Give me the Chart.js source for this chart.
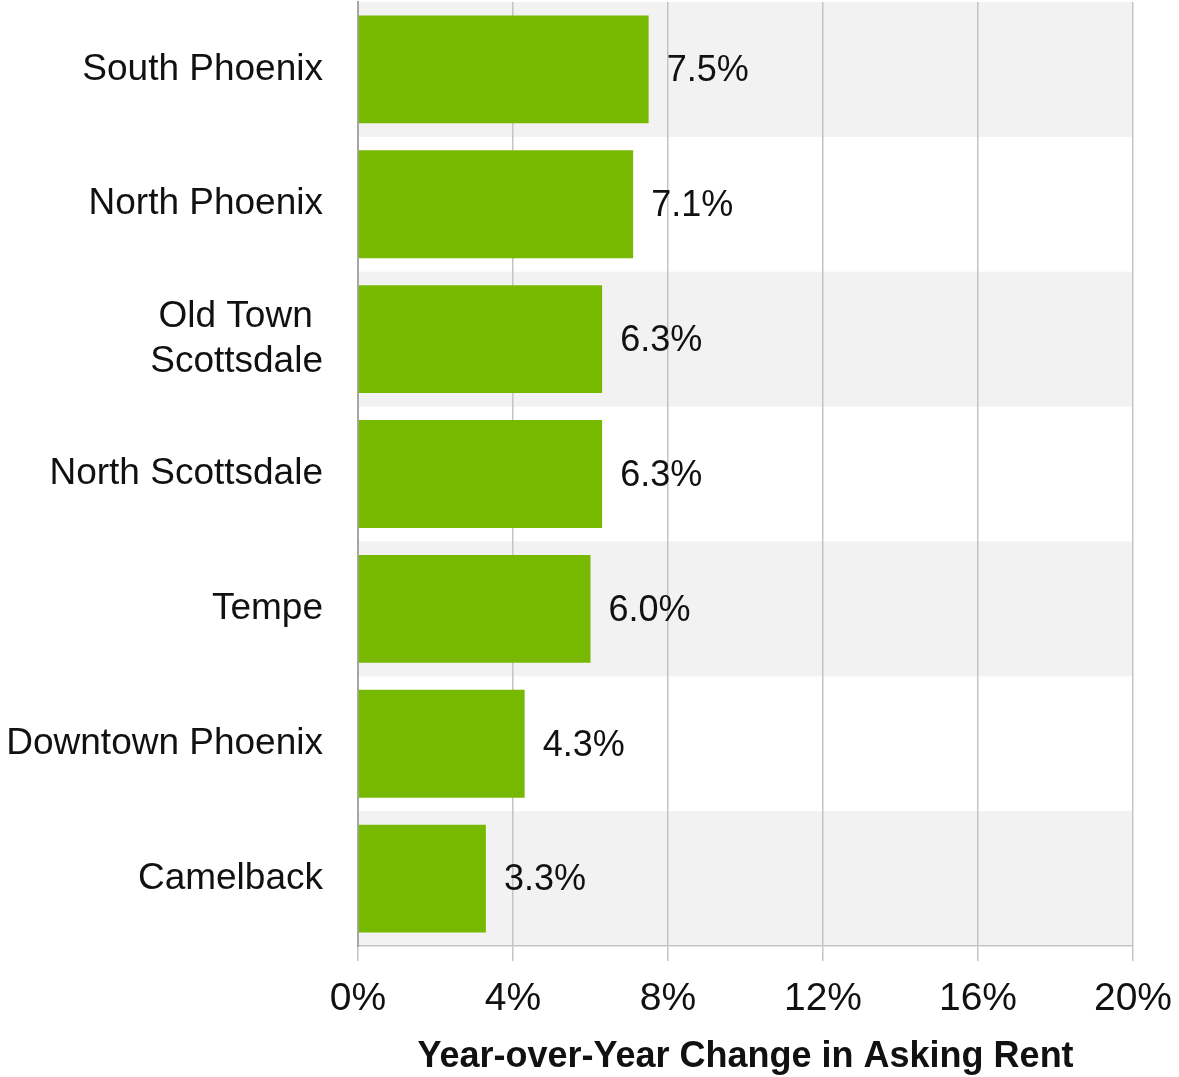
<!DOCTYPE html>
<html lang="en">
<head>
  <meta charset="UTF-8" />
  <title>Year-over-Year Change in Asking Rent</title>
  <script src="https://cdn.jsdelivr.net/npm/chart.js"></script>
  <style>
    html, body { margin: 0; padding: 0; background: #fff; }
    .wrap { width: 1179px; height: 1077px; }
  </style>
</head>
<body>
  <div class="wrap"><canvas id="rentChart"></canvas></div>

  <script>
    const areas = ['South Phoenix', 'North Phoenix', ['Old Town ', 'Scottsdale'], 'North Scottsdale',
                   'Tempe', 'Downtown Phoenix', 'Camelback'];
    const rentChange = [7.5, 7.1, 6.3, 6.3, 6.0, 4.3, 3.3];
    const xTicks = [0, 4, 8, 12, 16, 20];

    // grey bands behind every other row
    const rowBands = {
      id: 'rowBands',
      beforeDraw(chart) {
        const { ctx, chartArea, scales } = chart;
        const y = scales.y;
        const step = (chartArea.bottom - chartArea.top) / areas.length;
        ctx.save();
        ctx.fillStyle = '#f2f2f2';
        areas.forEach((a, i) => {
          if (i % 2 === 0) {
            const c = y.getPixelForValue(i);
            ctx.fillRect(chartArea.left, c - step / 2, chartArea.right - chartArea.left, step);
          }
        });
        ctx.restore();
      }
    };

    // value labels to the right of bars
    const barLabels = {
      id: 'barLabels',
      afterDatasetsDraw(chart) {
        const { ctx } = chart;
        const meta = chart.getDatasetMeta(0);
        ctx.save();
        ctx.font = '36px "Liberation Sans", Arial, sans-serif';
        ctx.fillStyle = '#111';
        ctx.textBaseline = 'middle';
        meta.data.forEach((bar, i) => {
          ctx.fillText(rentChange[i].toFixed(1) + '%', bar.x + 18, bar.y + 2);
        });
        ctx.restore();
      }
    };

    new Chart(document.getElementById('rentChart'), {
      type: 'bar',
      data: {
        labels: areas,
        datasets: [{
          data: rentChange,
          backgroundColor: '#77b800',
          categoryPercentage: 0.8,
          barPercentage: 1
        }]
      },
      options: {
        indexAxis: 'y',
        responsive: true,
        maintainAspectRatio: false,
        animation: false,
        layout: { padding: { top: 2, right: 46, left: 0, bottom: 0 } },
        plugins: {
          legend: { display: false },
          tooltip: { enabled: false }
        },
        scales: {
          x: {
            min: 0,
            max: 20,
            afterBuildTicks: s => { s.ticks = xTicks.map(v => ({ value: v })); },
            afterFit: s => { s.height = 131; s.paddingLeft = 0; s.paddingRight = 0; },
            grid: { color: '#c4c4c4', lineWidth: 1.5, tickLength: 15 },
            border: { color: '#c4c4c4', width: 1.5 },
            ticks: {
              color: '#111',
              padding: 15,
              maxRotation: 0,
              font: { family: '"Liberation Sans", Arial, sans-serif', size: 39 },
              callback: v => v + '%'
            },
            title: {
              display: true,
              text: 'Year-over-Year Change in Asking Rent',
              color: '#111',
              padding: { top: 2, bottom: -2 },
              font: { family: '"Liberation Sans Narrow", "Liberation Sans", sans-serif', size: 36, weight: 'bold' }
            }
          },
          y: {
            afterFit: s => { s.width = 358; s.paddingTop = 0; s.paddingBottom = 0; },
            grid: { display: false },
            border: { color: '#a6a6a6', width: 2 },
            ticks: {
              color: '#111',
              padding: 27,
              font: { family: '"Liberation Sans", Arial, sans-serif', size: 37 }
            }
          }
        }
      },
      plugins: [rowBands, barLabels]
    });
  </script>
</body>
</html>
